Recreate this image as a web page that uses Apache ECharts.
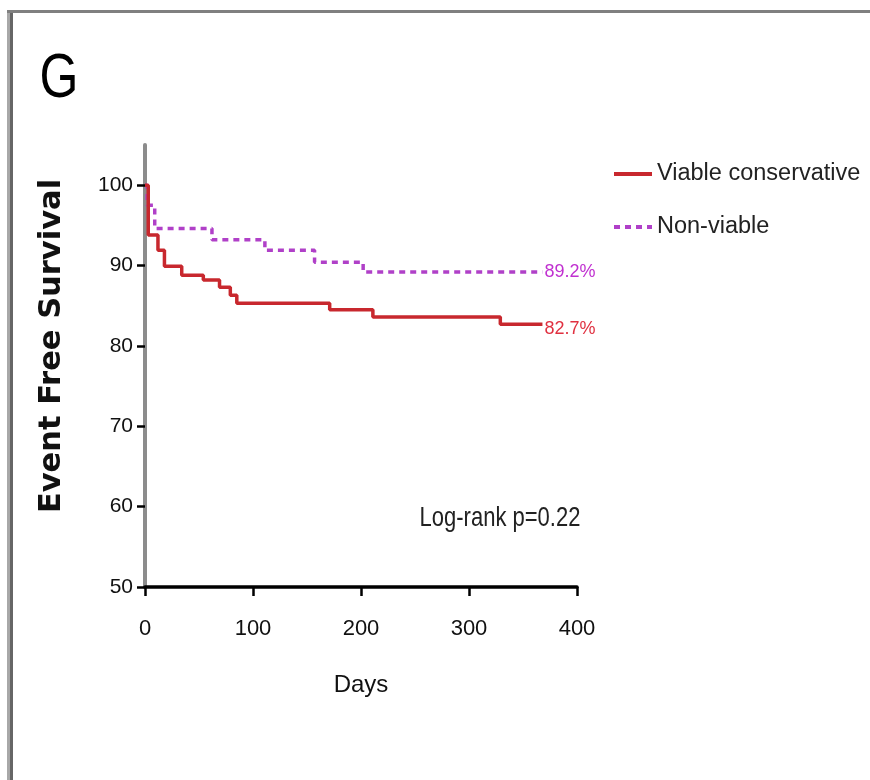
<!DOCTYPE html>
<html>
<head>
<meta charset="utf-8">
<script src="https://cdn.jsdelivr.net/npm/echarts@6/dist/echarts.min.js"></script>
<style>
html,body{margin:0;padding:0;background:#fff;}
#chart{width:870px;height:780px;}
</style>
</head>
<body>
<div id="chart"></div>
<script>
// ---- data ----
const viableDays = [0, 3, 12, 18, 34, 54, 69, 79, 85, 171, 211, 329, 368];
const viableSurv = [100, 93.8, 91.9, 89.9, 88.8, 88.2, 87.3, 86.3, 85.3, 84.5, 83.6, 82.7, 82.7];
const nonViableDays = [0, 2, 9, 62, 111, 157, 202, 368];
const nonViableSurv = [100, 97.5, 94.6, 93.2, 91.9, 90.4, 89.2, 89.2];
const seriesNames = ['Viable conservative', 'Non-viable'];
const endLabels = ['82.7%', '89.2%'];
const yTicks = [50, 60, 70, 80, 90, 100];
const xTicks = [0, 100, 200, 300, 400];
const panelLetter = 'G';
const statText = 'Log-rank p=0.22';
const yTitle = 'Event Free Survival';
const xTitle = 'Days';

const SANS = "'Liberation Sans', Arial, sans-serif";

function pairs(xs, ys){ return xs.map((x,i)=>[x, ys[i]]); }

const chart = echarts.init(document.getElementById('chart'), null, {renderer:'canvas'});
chart.setOption({
  backgroundColor:'#ffffff',
  animation:false,
  grid:{left:145, right:293, top:145, bottom:193, containLabel:false},
  legend:{
    left:612, top:159, orient:'vertical', itemWidth:38, itemHeight:14, itemGap:23, padding:0,
    itemStyle:{opacity:0},
    lineStyle:{width:4},
    textStyle:{fontFamily:SANS, fontSize:23.5, color:'#222', lineHeight:30},
    data:seriesNames
  },
  xAxis:{
    type:'value', min:xTicks[0], max:xTicks[xTicks.length-1], interval:100,
    name:xTitle, nameLocation:'middle', nameGap:86,
    nameTextStyle:{fontFamily:SANS, fontSize:24, color:'#111'},
    axisLine:{lineStyle:{color:'#000', width:3.5}},
    axisTick:{show:true, length:9, lineStyle:{color:'#000', width:2.5}, customValues:xTicks},
    axisLabel:{fontFamily:SANS, fontSize:22, color:'#111', margin:31, customValues:xTicks},
    splitLine:{show:false}
  },
  yAxis:{
    type:'value', min:50, max:105,
    axisLine:{lineStyle:{color:'#8c8c8c', width:4}},
    axisTick:{show:true, length:8, lineStyle:{color:'#000', width:2.5}, customValues:yTicks},
    axisLabel:{fontFamily:SANS, fontSize:21, color:'#111', margin:12, customValues:yTicks},
    splitLine:{show:false}
  },
  series:[
    {
      name:seriesNames[0], type:'line', step:'end', symbol:'none',
      data:pairs(viableDays, viableSurv),
      lineStyle:{color:'#c8282e', width:3.5},
      itemStyle:{color:'#c8282e'},
      endLabel:{show:true, formatter:endLabels[0], fontFamily:SANS, fontSize:18, color:'#e03040', distance:2, offset:[0,5]},
      z:3
    },
    {
      name:seriesNames[1], type:'line', step:'end', symbol:'none',
      data:pairs(nonViableDays, nonViableSurv),
      lineStyle:{color:'#b040c8', width:3.5, type:[6,5]},
      itemStyle:{color:'#b040c8'},
      endLabel:{show:true, formatter:endLabels[1], fontFamily:SANS, fontSize:18, color:'#c030d0', distance:2, offset:[0,0]},
      z:2
    }
  ],
  graphic:[
    {type:'line', shape:{x1:8.5, y1:10, x2:8.5, y2:780}, style:{stroke:'#a8a8a8', lineWidth:3}},
    {type:'line', shape:{x1:11.5, y1:10, x2:11.5, y2:780}, style:{stroke:'#666', lineWidth:3}},
    {type:'line', shape:{x1:7, y1:11.5, x2:870, y2:11.5}, style:{stroke:'#808080', lineWidth:3}},
    {type:'text', x:59, y:80, scaleY:1.25, style:{text:panelLetter, fontFamily:SANS, fontSize:50, fill:'#000', align:'center', verticalAlign:'middle'}},
    {type:'text', x:500, y:518, scaleY:1.25, style:{text:statText, fontFamily:SANS, fontSize:22, fill:'#222', align:'center', verticalAlign:'middle'}},
    {type:'text', x:52, y:346, rotation:Math.PI/2, style:{text:yTitle, fontFamily:"'DejaVu Sans', sans-serif", fontWeight:'bold', fontSize:30.5, fill:'#111', align:'center', verticalAlign:'middle'}}
  ]
});
</script>
</body>
</html>
